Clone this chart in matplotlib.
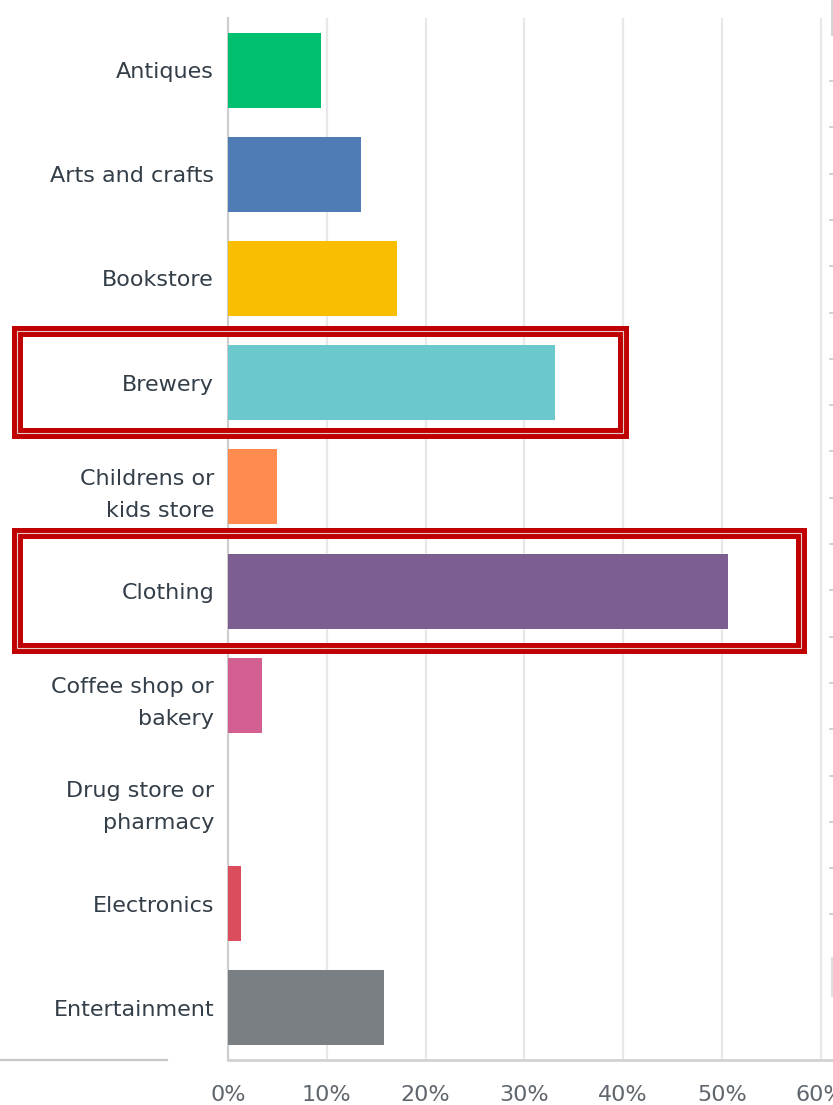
import numpy as np
import matplotlib.pyplot as plt
from matplotlib.patches import Rectangle
from matplotlib.lines import Line2D

# ----------------------------
# Survey data (% of respondents)
# ----------------------------

categories = [
    "Antiques",
    "Arts and crafts",
    "Bookstore",
    "Brewery",
    "Childrens or\nkids store",
    "Clothing",
    "Coffee shop or\nbakery",
    "Drug store or\npharmacy",
    "Electronics",
    "Entertainment",
]
values = [9.4, 13.5, 17.1, 33.1, 5.0, 50.6, 3.4, 0.0, 1.3, 15.8]
colors = ["#00bf6f", "#507cb6", "#f9be00", "#6bc8cd", "#ff8b4f",
          "#7d5e90", "#d25f90", "#a0a0a0", "#db4d5c", "#7a7f84"]
xticks = [0, 10, 20, 30, 40, 50, 60]
xtick_labels = ["0%", "10%", "20%", "30%", "40%", "50%", "60%"]

# highlighted rows: (category, top offset, bottom offset, right edge in %)
highlights = [("Brewery", -0.50, 0.48, 40), ("Clothing", -0.56, 0.55, 58)]

plt.rcParams["font.family"] = ["DejaVu Sans"]

W, H = 833, 1105
fig = plt.figure(figsize=(W / 100, H / 100), dpi=100)
x0, y_top, y_bot = 228, 18, 1060
ax = fig.add_axes([x0 / W, 1 - y_bot / H, 1 - x0 / W, (y_bot - y_top) / H])

y = np.arange(len(categories))
ax.barh(y, values, height=0.72, color=colors, zorder=3)

ax.set_xlim(0, (W - x0) / 9.88)
ax.set_ylim(len(categories) - 0.5, -0.5)

ax.set_yticks(y)
ax.set_yticklabels(categories, fontsize=16, color="#333e48", linespacing=1.75)
ax.set_xticks(xticks)
ax.set_xticklabels(xtick_labels, fontsize=16, color="#5f666d")
ax.tick_params(axis="both", length=0)
ax.tick_params(axis="y", pad=10)
ax.tick_params(axis="x", pad=18)

ax.xaxis.grid(True, color="#e8e8e8", linewidth=1.6, zorder=0)
ax.set_axisbelow(True)
for side in ["top", "right"]:
    ax.spines[side].set_visible(False)
ax.spines["left"].set_color("#cdcdcd")
ax.spines["left"].set_linewidth(1.5)
ax.spines["bottom"].set_color("#d2d2d2")
ax.spines["bottom"].set_linewidth(2)

# red double-line boxes around highlighted rows
left_edge = (17.5 - x0) / 9.88
for name, top, bottom, right in highlights:
    i = categories.index(name)
    for lw, col in [(7.9, "#c00000"), (0.8, "#e2cccc")]:
        r = Rectangle((left_edge, i + top), right - left_edge, bottom - top,
                      fill=False, edgecolor=col, linewidth=lw,
                      transform=ax.transData, clip_on=False, zorder=5)
        ax.add_patch(r)

# stray rule under the labels and the clipped neighbouring panel edge
fig.add_artist(Line2D([0, 167 / W], [1 - 1060 / H] * 2, color="#c8c8c8",
                      linewidth=1.6, transform=fig.transFigure))
edge_x = 831.5 / W
fig.add_artist(Line2D([edge_x] * 2, [1, 1 - 35 / H], color="#d6d6d6",
                      linewidth=1.5, transform=fig.transFigure))
fig.add_artist(Line2D([edge_x] * 2, [1 - 958 / H, 1 - 996 / H], color="#e0e0e0",
                      linewidth=1.5, transform=fig.transFigure))
for ty in np.arange(81, 920, 46.3):
    fig.add_artist(Line2D([829.5 / W, 1], [1 - ty / H] * 2, color="#c8c8c8",
                          linewidth=1.2, transform=fig.transFigure))

fig.savefig("out.png", dpi=100)
plt.close(fig)
